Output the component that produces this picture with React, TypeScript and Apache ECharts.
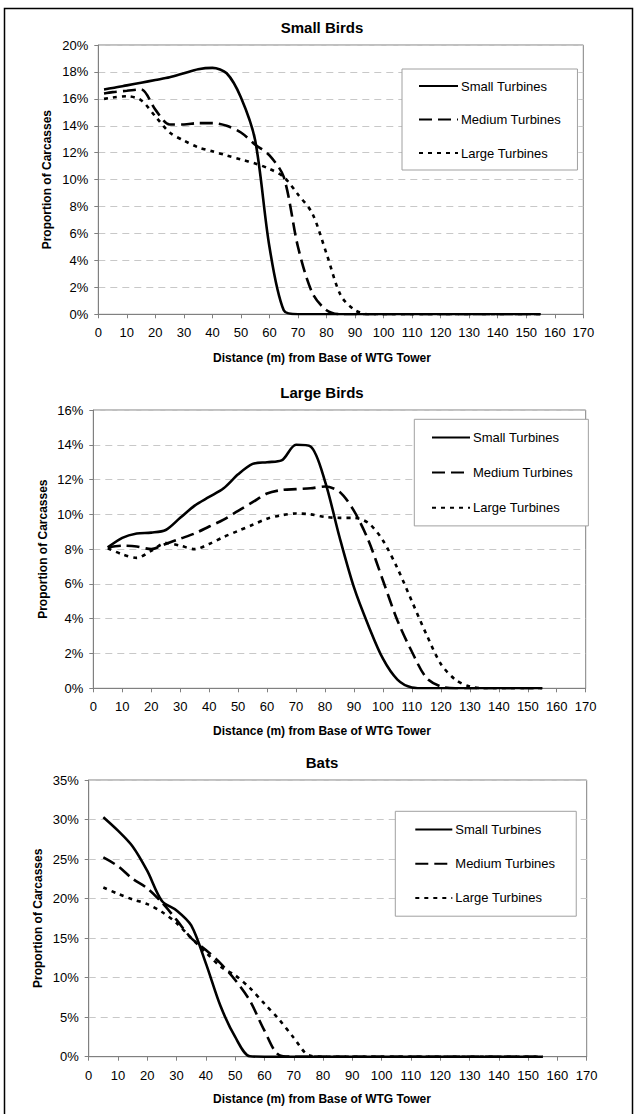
import React, { useEffect, useRef } from "react";
import * as echarts from "echarts";

// Distance (m) from base of WTG tower
const distSmallBirds = [2, 5, 10, 15, 20, 25, 30, 35, 40, 45, 50, 55, 60, 65, 70, 75, 80, 85, 90, 95, 100, 105, 110, 115, 120, 125, 130, 135, 140, 145, 150, 155];
const dist = [5, 10, 15, 20, 25, 30, 35, 40, 45, 50, 55, 60, 65, 70, 75, 80, 85, 90, 95, 100, 105, 110, 115, 120, 125, 130, 135, 140, 145, 150, 155];

// Small Birds (% of carcasses)
const sbSmall = [16.7, 16.8, 17.0, 17.2, 17.4, 17.6, 17.9, 18.2, 18.3, 17.9, 16.1, 12.9, 5.0, 0.3, 0, 0, 0, 0, 0, 0, 0, 0, 0, 0, 0, 0, 0, 0, 0, 0, 0, 0];
const sbMedium = [16.4, 16.5, 16.6, 16.7, 15.2, 14.1, 14.1, 14.2, 14.2, 14.0, 13.5, 12.6, 11.8, 10.2, 5.0, 1.6, 0.3, 0, 0, 0, 0, 0, 0, 0, 0, 0, 0, 0, 0, 0, 0, 0];
const sbLarge = [16.0, 16.1, 16.2, 15.9, 14.7, 13.5, 12.9, 12.4, 12.1, 11.8, 11.5, 11.2, 10.8, 10.2, 8.9, 7.5, 4.5, 1.4, 0.3, 0, 0, 0, 0, 0, 0, 0, 0, 0, 0, 0, 0, 0];

// Large Birds
const lbSmall = [8.1, 8.65, 8.9, 8.95, 9.1, 9.8, 10.5, 11.0, 11.5, 12.3, 12.9, 13.0, 13.1, 14.0, 13.9, 11.9, 8.7, 5.8, 3.6, 1.7, 0.5, 0.05, 0, 0, 0, 0, 0, 0, 0, 0, 0];
const lbMedium = [8.1, 8.2, 8.15, 8.0, 8.3, 8.6, 8.9, 9.3, 9.7, 10.2, 10.7, 11.2, 11.4, 11.45, 11.5, 11.6, 11.3, 10.2, 8.5, 6.2, 3.9, 2.1, 0.6, 0.1, 0, 0, 0, 0, 0, 0, 0];
const lbLarge = [8.05, 7.7, 7.5, 7.9, 8.35, 8.2, 8.0, 8.3, 8.7, 9.05, 9.4, 9.75, 9.95, 10.05, 10.0, 9.85, 9.8, 9.8, 9.5, 8.5, 6.9, 5.0, 3.1, 1.4, 0.5, 0.1, 0, 0, 0, 0, 0];

// Bats
const btSmall = [30.3, 28.6, 26.6, 23.5, 19.7, 18.5, 16.6, 11.8, 6.4, 2.5, 0.05, 0, 0, 0, 0, 0, 0, 0, 0, 0, 0, 0, 0, 0, 0, 0, 0, 0, 0, 0, 0];
const btMedium = [25.2, 24.1, 22.5, 21.3, 19.5, 17.3, 15.0, 13.5, 11.8, 9.7, 7.1, 3.3, 0.2, 0, 0, 0, 0, 0, 0, 0, 0, 0, 0, 0, 0, 0, 0, 0, 0, 0, 0];
const btLarge = [21.4, 20.6, 19.9, 19.3, 18.3, 16.9, 15.0, 13.2, 11.4, 10.3, 8.7, 6.7, 4.7, 2.4, 0.2, 0, 0, 0, 0, 0, 0, 0, 0, 0, 0, 0, 0, 0, 0, 0, 0];

const seriesNames = ["Small Turbines", "Medium Turbines", "Large Turbines"];
const chartTitles = ["Small Birds", "Large Birds", "Bats"];
const yMax = [20, 16, 35];
const yStep = [2, 2, 5];
const xTitle = "Distance (m) from Base of WTG Tower";
const yTitle = "Proportion of Carcasses";

const FONT = "Arial, 'Liberation Sans', sans-serif";

const pairs = (xs: number[], ys: number[]) => xs.map((x, i) => [x, ys[i]]);

export default function App() {
  const ref = useRef<HTMLDivElement>(null);
  useEffect(() => {
    if (!ref.current) return;
    const chart = echarts.init(ref.current, null, { renderer: "svg" });

    const grids = [
      { left: 98.3, top: 45, width: 485, height: 269.3 },
      { left: 93.3, top: 410, width: 492.4, height: 278.3 },
      { left: 88.7, top: 780, width: 498, height: 276.7 },
    ];
    const seriesData = [
      [pairs(distSmallBirds, sbSmall), pairs(distSmallBirds, sbMedium), pairs(distSmallBirds, sbLarge)],
      [pairs(dist, lbSmall), pairs(dist, lbMedium), pairs(dist, lbLarge)],
      [pairs(dist, btSmall), pairs(dist, btMedium), pairs(dist, btLarge)],
    ];
    const dashes: any[] = ["solid", [13, 6], [4, 5]];
    const legends = [
      { left: 402, top: 69, padding: [10.5, 16.5, 10.5, 16], itemWidth: 39, itemGap: 20.5 },
      { left: 414.3, top: 419.3, padding: [11.6, 15.4, 11.6, 16.7], itemWidth: 38, itemGap: 22.2 },
      { left: 395.3, top: 811.3, padding: [11.8, 21, 11.8, 19], itemWidth: 37, itemGap: 21.15 },
    ];
    const xTitleY = [358, 731, 1099];
    const titleY = [27, 392, 762];
    const yTitleX = [47, 43, 38];

    const graphic: any[] = [
      {
        type: "rect",
        silent: true,
        z: 100,
        shape: { x: 4.5, y: 8.5, width: 628, height: 1120 },
        style: { fill: "none", stroke: "#000", lineWidth: 1.5 },
      },
    ];
    grids.forEach((g, i) => {
      graphic.push({
        type: "text",
        x: 322,
        y: titleY[i],
        style: {
          text: chartTitles[i],
          font: `bold 15px ${FONT}`,
          fill: "#000",
          align: "center",
          verticalAlign: "middle",
          textAlign: "center",
          textVerticalAlign: "middle",
        },
      });
      graphic.push({
        type: "text",
        x: 322,
        y: xTitleY[i],
        style: {
          text: xTitle,
          font: `bold 12px ${FONT}`,
          fill: "#000",
          align: "center",
          verticalAlign: "middle",
          textAlign: "center",
          textVerticalAlign: "middle",
        },
      });
      graphic.push({
        type: "text",
        x: yTitleX[i],
        y: g.top + g.height / 2,
        rotation: Math.PI / 2,
        style: {
          text: yTitle,
          font: `bold 12px ${FONT}`,
          fill: "#000",
          align: "center",
          verticalAlign: "middle",
          textAlign: "center",
          textVerticalAlign: "middle",
        },
      });
    });

    const option: any = {
      animation: false,
      backgroundColor: "#fff",
      grid: grids.map((g) => ({
        ...g,
        show: true,
        borderColor: "#808080",
        borderWidth: 1,
        backgroundColor: "transparent",
        containLabel: false,
      })),
      xAxis: grids.map((_, i) => ({
        type: "value",
        gridIndex: i,
        min: 0,
        max: 170,
        interval: 10,
        axisLine: { show: true, lineStyle: { color: "#808080", width: 1 } },
        axisTick: { show: true, length: 4, lineStyle: { color: "#808080" } },
        axisLabel: { color: "#000", fontSize: 13, fontFamily: FONT, margin: 12 },
        splitLine: { show: false },
      })),
      yAxis: grids.map((_, i) => ({
        type: "value",
        gridIndex: i,
        min: 0,
        max: yMax[i],
        interval: yStep[i],
        axisLine: { show: true, lineStyle: { color: "#808080", width: 1 } },
        axisTick: { show: true, length: 4, lineStyle: { color: "#808080" } },
        axisLabel: { color: "#000", fontSize: 13, fontFamily: FONT, margin: 10, formatter: "{value}%" },
        splitLine: { show: true, lineStyle: { color: "#c8c8c8", width: 1, type: [7, 5] } },
      })),
      legend: legends.map((l) => ({
        data: seriesNames,
        orient: "vertical",
        left: l.left,
        top: l.top,
        padding: l.padding,
        itemWidth: l.itemWidth,
        itemHeight: 14,
        itemGap: l.itemGap,
        backgroundColor: "#fff",
        borderColor: "#a0a0a0",
        borderWidth: 1,
        borderRadius: 0,
        selectedMode: false,
        itemStyle: { color: "transparent", borderWidth: 0, opacity: 0 },
        textStyle: { color: "#000", fontSize: 13, fontFamily: FONT, padding: [0, 0, 0, -2] },
      })),
      series: seriesData.flatMap((set, gi) =>
        set.map((data, si) => ({
          type: "line",
          name: seriesNames[si],
          xAxisIndex: gi,
          yAxisIndex: gi,
          data,
          smooth: 0.3,
          symbol: "none",
          showSymbol: false,
          itemStyle: { color: "#000" },
          lineStyle: { color: "#000", width: 2.6, type: dashes[si] },
          z: 3 - si,
        }))
      ),
      graphic,
    };
    chart.setOption(option);
    return () => chart.dispose();
  }, []);
  return (
    <div
      ref={ref}
      style={{ position: "absolute", left: 0, top: 0, width: 637, height: 1114 }}
    />
  );
}
